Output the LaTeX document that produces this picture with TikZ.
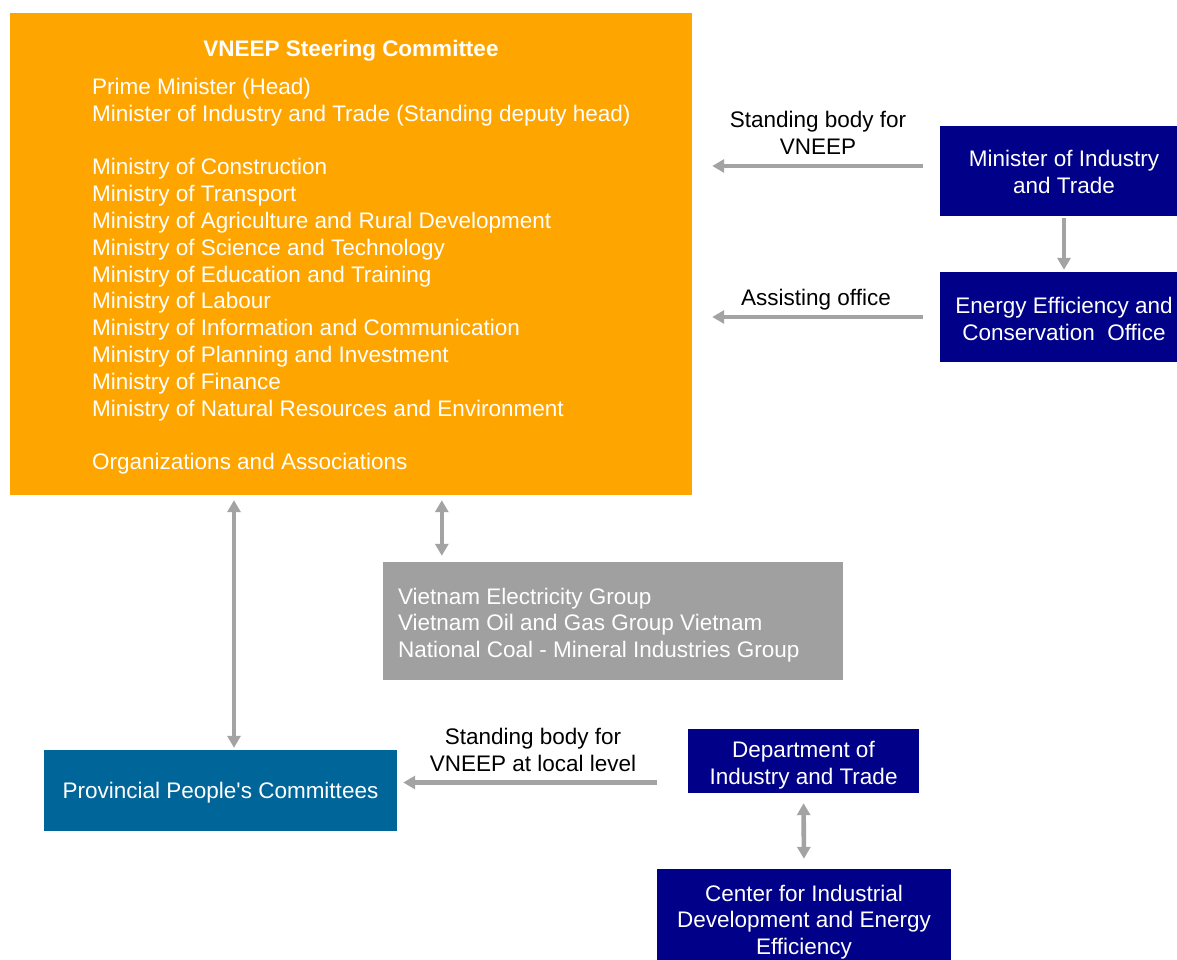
\documentclass[tikz,border=0pt]{standalone}
\usepackage{fontspec}
\setmainfont{Liberation Sans}[Ligatures=TeXOff]
\usetikzlibrary{arrows.meta}
\definecolor{orangebox}{HTML}{FFA500}
\definecolor{navybox}{HTML}{000088}
\definecolor{tealbox}{HTML}{006699}
\definecolor{graybox}{HTML}{A0A0A0}
\definecolor{arrowgray}{HTML}{A3A3A3}
\begin{document}
\begin{tikzpicture}[x=1pt,y=-1pt,
  every node/.style={font=\fontsize{22.5}{26.8}\selectfont, inner sep=0pt},
  box/.style={rectangle, fill=#1, text=white, align=center},
  boxtext/.style={text=white, align=center},
  link/.style={draw=arrowgray, line width=4.6pt, -{Triangle[length=12pt,width=13pt]}},
  link2/.style={draw=arrowgray, line width=4.6pt, {Triangle[length=12pt,width=13pt]}-{Triangle[length=12pt,width=13pt]}},
  lbl/.style={text=black, align=center}]
\useasboundingbox (0,0) rectangle (1177,960);

% steering committee
\node[box=orangebox, minimum width=682pt, minimum height=482pt] (svc) at (351,254) {};
\node[text=white, font=\fontsize{22.5}{26.8}\selectfont\bfseries] (svctitle) at (351,51) {VNEEP Steering Committee};
\node[text=white, align=left, anchor=north west] (svclist) at (92,78) {Prime Minister (Head)\\
Minister of Industry and Trade (Standing deputy head)\\[26.8pt]
Ministry of Construction\\
Ministry of Transport\\
Ministry of Agriculture and Rural Development\\
Ministry of Science and Technology\\
Ministry of Education and Training\\
Ministry of Labour\\
Ministry of Information and Communication\\
Ministry of Planning and Investment\\
Ministry of Finance\\
Ministry of Natural Resources and Environment\\[26.8pt]
Organizations and Associations};

% ministry side
\node[box=navybox, minimum width=248pt, minimum height=90pt] (mit) at (1064,171) {};
\node[boxtext] (mittext) at ([yshift=-1pt]mit.center) {Minister of Industry\\and Trade};
\node[box=navybox, minimum width=248pt, minimum height=90pt] (eeco) at (1064,317) {};
\node[boxtext] (eecotext) at ([yshift=-2pt]eeco.center) {Energy Efficiency and\\Conservation~ Office};

% state groups
\node[box=graybox, minimum width=460pt, minimum height=118pt] (groups) at (613,621) {};
\node[text=white, align=left, anchor=west] (groupstext) at ([xshift=15pt,yshift=-4pt]groups.west) {Vietnam Electricity Group\\
Vietnam Oil and Gas Group Vietnam\\
National Coal - Mineral Industries Group};

% local level
\node[box=tealbox, minimum width=353pt, minimum height=81pt] (prov) at (220.5,790.5) {};
\node[boxtext] (provtext) at ([yshift=-2pt]prov.center) {Provincial People's Committees};
\node[box=navybox, minimum width=231pt, minimum height=64pt] (dept) at (803.5,761) {};
\node[boxtext] (depttext) at ([yshift=-4pt]dept.center) {Department of\\Industry and Trade};
\node[box=navybox, minimum width=294pt, minimum height=98pt] (cide) at (804,918) {};
\node[boxtext] (cidetext) at ([yshift=-4pt]cide.center) {Center for Industrial\\Development and Energy\\Efficiency};

% connector labels
\node[lbl] (l1) at (818,133) {Standing body for\\VNEEP};
\node[lbl] (l2) at (816,300) {Assisting office};
\node[lbl] (l3) at (533,750) {Standing body for\\VNEEP at local level};

% connectors
\draw[link, shorten <=17pt, shorten >=20pt] ([yshift=5pt]mit.west) -- ([yshift=5pt]mit.west -| svc.east);
\draw[link, shorten <=2pt, shorten >=2pt] (mit.south) -- (eeco.north);
\draw[link, shorten <=17pt, shorten >=20pt] (eeco.west) -- (eeco.west -| svc.east);
\draw[link2, shorten <=6pt, shorten >=5pt] ([xshift=59pt]groups.north west) -- ([xshift=59pt]groups.north west |- svc.south);
\draw[link2, shorten <=2pt, shorten >=5pt] ([xshift=13.5pt]prov.north) -- ([xshift=13.5pt]prov.north |- svc.south);
\draw[link, shorten <=31pt, shorten >=6pt] ([yshift=8pt]prov.east -| dept.west) -- ([yshift=8pt]prov.east);
\draw[link2, shorten <=10pt, shorten >=10pt] (dept.south) -- (cide.north);
\end{tikzpicture}
\end{document}
